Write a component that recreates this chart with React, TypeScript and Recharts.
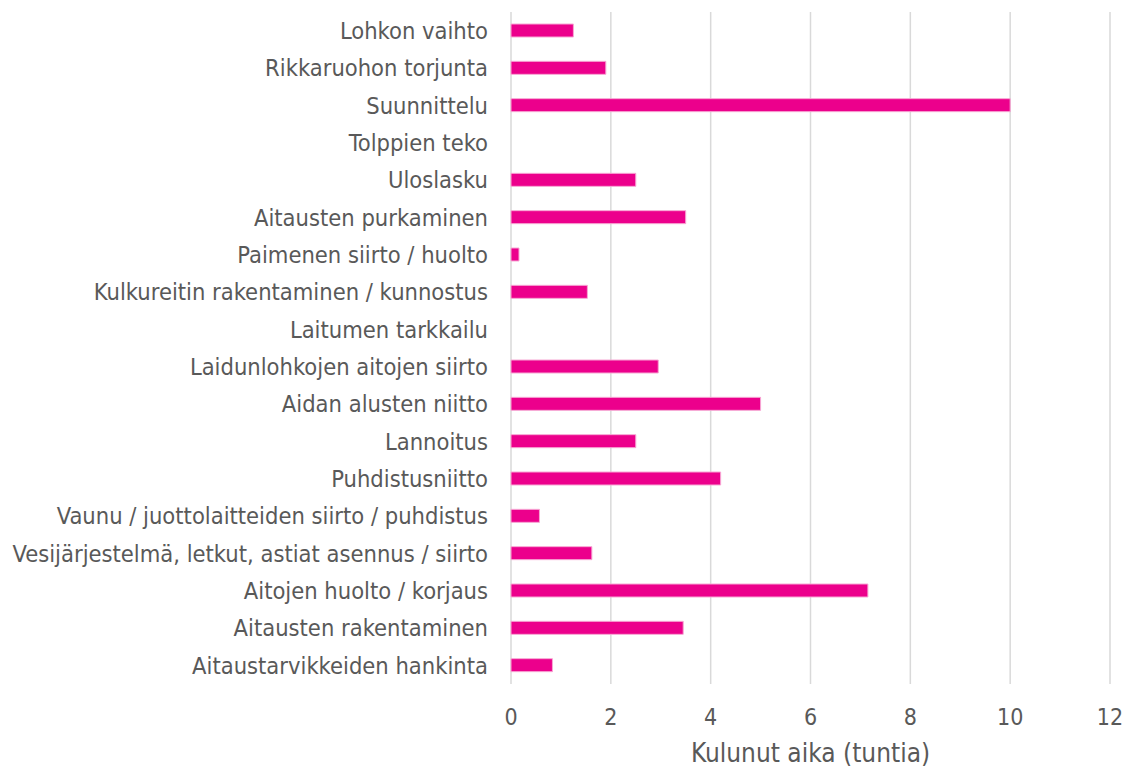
import { BarChart, Bar, XAxis, YAxis, CartesianGrid } from 'recharts';

// Tasks, listed top to bottom as in the chart
const tasks = [
  'Lohkon vaihto',
  'Rikkaruohon torjunta',
  'Suunnittelu',
  'Tolppien teko',
  'Uloslasku',
  'Aitausten purkaminen',
  'Paimenen siirto / huolto',
  'Kulkureitin rakentaminen / kunnostus',
  'Laitumen tarkkailu',
  'Laidunlohkojen aitojen siirto',
  'Aidan alusten niitto',
  'Lannoitus',
  'Puhdistusniitto',
  'Vaunu / juottolaitteiden siirto / puhdistus',
  'Vesijärjestelmä, letkut, astiat asennus / siirto',
  'Aitojen huolto / korjaus',
  'Aitausten rakentaminen',
  'Aitaustarvikkeiden hankinta',
];

// Hours spent
const hours = [1.25, 1.9, 10, 0, 2.5, 3.5, 0.16, 1.53, 0, 2.95, 5, 2.5, 4.2, 0.57, 1.62, 7.15, 3.45, 0.83];

const xTicks = [0, 2, 4, 6, 8, 10, 12];

const data = tasks.map((task, i) => ({ task, hours: hours[i] }));

const font = 'Tahoma, "DejaVu Sans Condensed", "DejaVu Sans", sans-serif';

export default function App() {
  return (
    <div style={{ position: 'absolute', left: 0, top: 0, background: '#fff', fontFamily: font }}>
      <BarChart
        width={1127}
        height={768}
        data={data}
        layout="vertical"
        margin={{ top: 12, right: 17, left: 0, bottom: 0 }}
      >
        <CartesianGrid horizontal={false} stroke="#d9d9d9" strokeWidth={1.5} />
        <XAxis
          type="number"
          domain={[0, 12]}
          ticks={xTicks}
          axisLine={false}
          tickLine={false}
          tickMargin={19}
          height={84}
          tick={{ fill: '#595959', fontSize: 23, fontFamily: font }}
          label={{
            value: 'Kulunut aika (tuntia)',
            position: 'insideBottom',
            offset: 6,
            fill: '#595959',
            fontSize: 26,
            fontFamily: font,
          }}
        />
        <YAxis
          type="category"
          dataKey="task"
          width={511}
          axisLine={false}
          tickLine={false}
          tickMargin={17}
          interval={0}
          tick={{ fill: '#595959', fontSize: 23.5, fontFamily: font }}
        />
        <Bar dataKey="hours" fill="#EC008C" stroke="#F7A8D4" strokeWidth={1} barSize={13} isAnimationActive={false} />
      </BarChart>
    </div>
  );
}
